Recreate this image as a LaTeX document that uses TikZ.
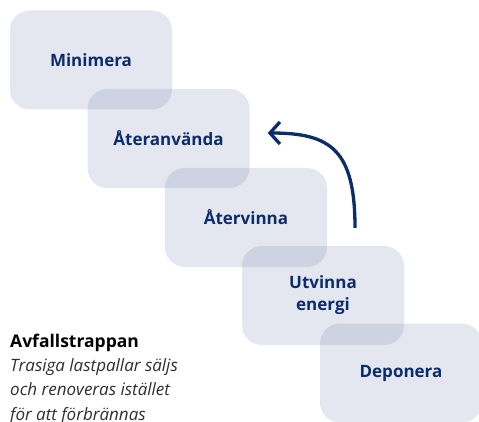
\documentclass[tikz,border=0pt]{standalone}
\usepackage{fontspec}
\setmainfont{Open Sans}
\usetikzlibrary{arrows.meta}
\definecolor{navy}{HTML}{0B2D6B}
\definecolor{boxc}{RGB}{75,95,148}
\definecolor{txtgray}{HTML}{2E2E2E}
\begin{document}
\begin{tikzpicture}[x=1pt,y=-1pt,
 stepbox/.style={rounded corners=20pt, fill=boxc, fill opacity=0.15, text opacity=1,
   minimum width=162pt, minimum height=99pt, inner sep=0pt, text=navy,
   font=\bfseries\fontsize{17}{22}\selectfont, align=center},
 notetxt/.style={anchor=base west, inner sep=0pt, text=txtgray, font=\itshape\fontsize{17}{20}\selectfont},
 ]
\useasboundingbox (0,0) rectangle (479,422);
\clip (0,0) rectangle (479,422);
\node[stepbox] (min) at (91,60) {Minimera};
\node[stepbox] (ater) at (168.5,138.5) {Återanvända};
\node[stepbox] (atv) at (246,217.5) {Återvinna};
\node[stepbox] (utv) at (323,295.5) {Utvinna\\energi};
\node[stepbox] (dep) at (401,373) {Deponera};
\coordinate (astart) at ([xshift=32pt,yshift=18pt]utv.north);
\coordinate (atip) at ([xshift=18pt,yshift=5.5pt]ater.east);
\draw[navy, line width=3.3pt, -{Straight Barb[length=10pt,width=22pt]}]
  (astart) .. controls ([yshift=78pt]astart) and ([xshift=63pt]atip) .. (atip);
\node[anchor=base west, inner sep=0pt, text=black, font=\bfseries\fontsize{17.5}{20}\selectfont] (title) at (10,347) {Avfallstrappan};
\node[notetxt] (l1) at (10,371) {Trasiga lastpallar säljs};
\node[notetxt] (l2) at (10,395) {och renoveras istället};
\node[notetxt] (l3) at (10,420) {för att förbrännas};
\end{tikzpicture}
\end{document}
